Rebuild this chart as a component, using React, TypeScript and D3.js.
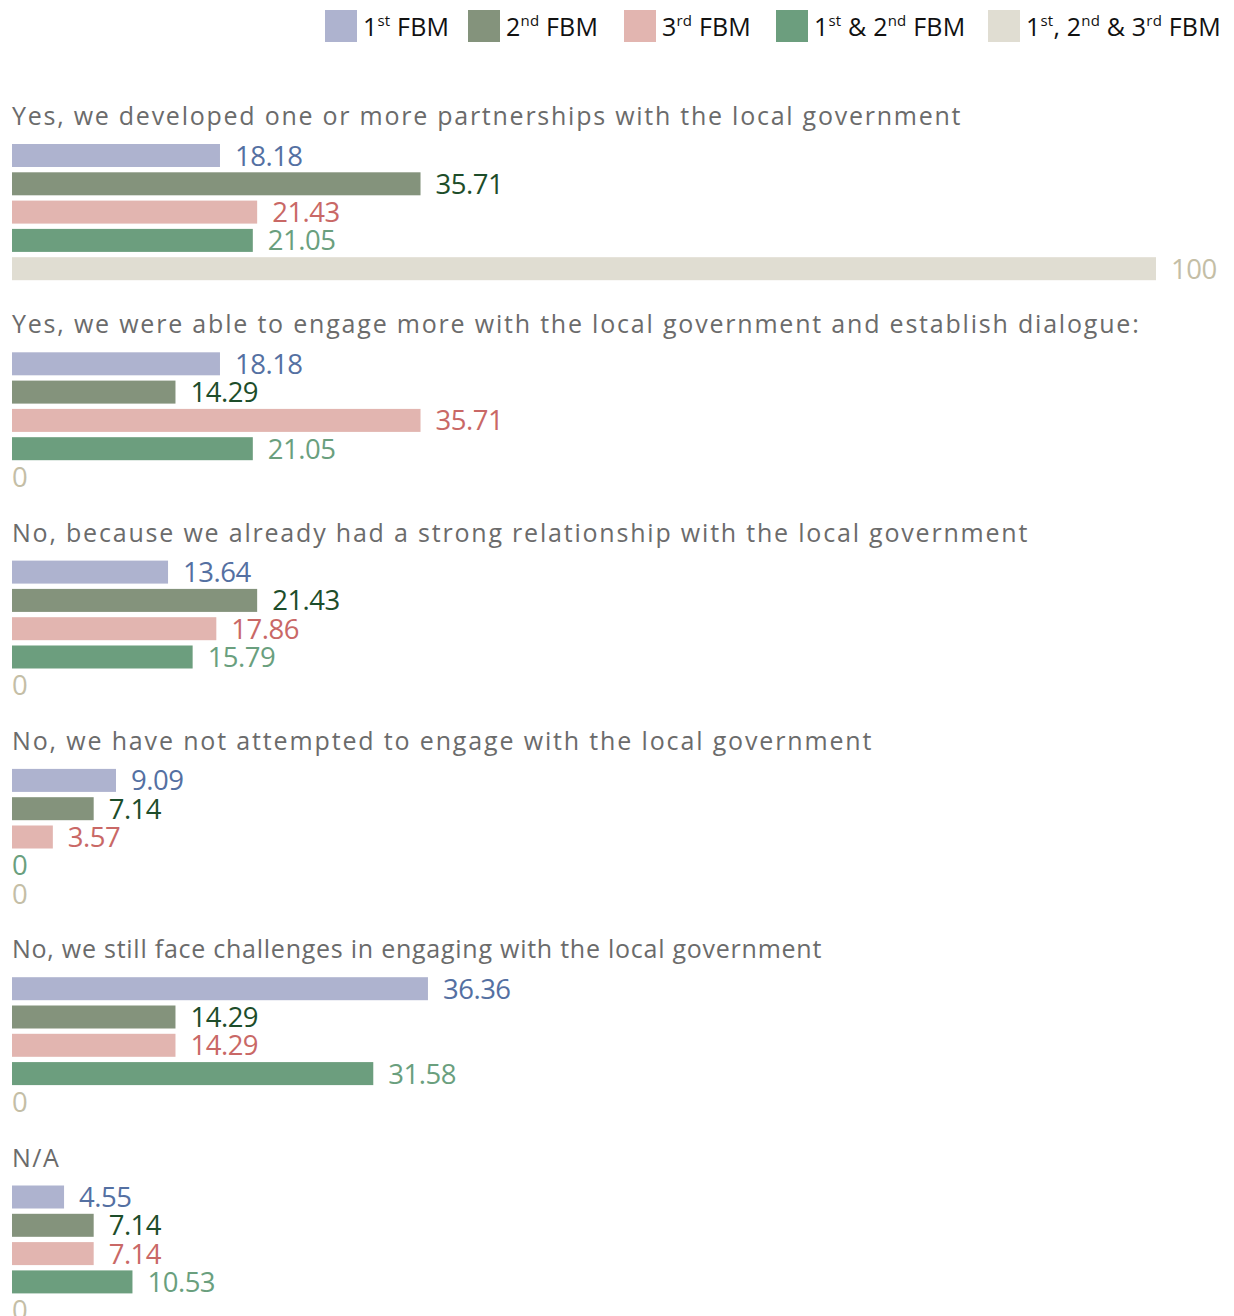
import React from "react";
import * as d3 from "d3";

const categories = [
  "Yes, we developed one or more partnerships with the local government",
  "Yes, we were able to engage more with the local government and establish dialogue:",
  "No, because we already had a strong relationship with the local government",
  "No, we have not attempted to engage with the local government",
  "No, we still face challenges in engaging with the local government",
  "N/A",
];
const categorySpacing = [1.75, 1.8, 1.8, 1.85, 0.75, 1.5];

const seriesKeys = ["s1", "s2", "s3", "s12", "s123"];
const fbm1 = [18.18, 18.18, 13.64, 9.09, 36.36, 4.55];
const fbm2 = [35.71, 14.29, 21.43, 7.14, 14.29, 7.14];
const fbm3 = [21.43, 35.71, 17.86, 3.57, 14.29, 7.14];
const fbm12 = [21.05, 21.05, 15.79, 0, 31.58, 10.53];
const fbm123 = [100, 0, 0, 0, 0, 0];
const seriesValues = [fbm1, fbm2, fbm3, fbm12, fbm123];

const barColors = ["#aeb3cf", "#84937c", "#e2b5b0", "#6c9e7e", "#e0ddd2"];
const labelColors = ["#5470a2", "#1d4d2a", "#c96866", "#6a9f7e", "#c4bea6"];

// legend parts: [text, isSup]
const legendLabels: [string, boolean][][] = [
  [["1", false], ["st", true], [" FBM", false]],
  [["2", false], ["nd", true], [" FBM", false]],
  [["3", false], ["rd", true], [" FBM", false]],
  [["1", false], ["st", true], [" & 2", false], ["nd", true], [" FBM", false]],
  [["1", false], ["st", true], [", 2", false], ["nd", true], [" & 3", false], ["rd", true], [" FBM", false]],
];
const legendX = [325, 468, 624, 776, 988];

const FONT = "'Open Sans', 'Noto Sans', sans-serif";

export default function App() {
  const W = 1234;
  const H = 1316;
  const x = d3.scaleLinear().domain([0, 100]).range([12, 1156]);
  const groupY = d3
    .scalePoint<number>()
    .domain(categories.map((_, i) => i))
    .range([144, 144 + 208.3 * 5]);
  const barY = d3
    .scaleBand<string>()
    .domain(seriesKeys)
    .range([0, 136.2])
    .paddingInner(0.187)
    .paddingOuter(0);

  return (
    <svg width={W} height={H} style={{ position: "absolute", left: 0, top: 0 }}>
      <rect width={W} height={H} fill="#fff" />
      {legendLabels.map((parts, i) => (
        <g key={i}>
          <rect x={legendX[i]} y={10} width={32} height={32} fill={barColors[i]} />
          <text x={legendX[i] + 38} y={36} fontFamily={FONT} fontSize={25} fill="#111" letterSpacing={0.2}>
            {parts.map(([t, sup], j) =>
              sup ? (
                <tspan key={j} fontSize={15} dy={-10}>
                  {t}
                </tspan>
              ) : (
                <tspan key={j} dy={j > 0 && parts[j - 1][1] ? 10 : 0}>
                  {t}
                </tspan>
              )
            )}
          </text>
        </g>
      ))}
      {categories.map((cat, gi) => {
        const gy = groupY(gi)!;
        return (
          <g key={gi}>
            <text
              x={12}
              y={gy - 19}
              fontFamily={FONT}
              fontSize={25}
              fill="#6b6b6b"
              letterSpacing={categorySpacing[gi]}
            >
              {cat}
            </text>
            {seriesKeys.map((k, si) => {
              const v = seriesValues[si][gi];
              const y = gy + barY(k)!;
              const bh = barY.bandwidth();
              const w = x(v) - x(0);
              const lx = v === 0 ? x(0) : x(v) + 15;
              return (
                <g key={k}>
                  {v > 0 && <rect x={x(0)} y={y} width={w} height={bh} fill={barColors[si]} />}
                  <text
                    x={lx}
                    y={y + bh / 2 + 10}
                    fontFamily={FONT}
                    fontSize={27.5}
                    fill={labelColors[si]}
                    letterSpacing={-0.5}
                  >
                    {String(v)}
                  </text>
                </g>
              );
            })}
          </g>
        );
      })}
    </svg>
  );
}
